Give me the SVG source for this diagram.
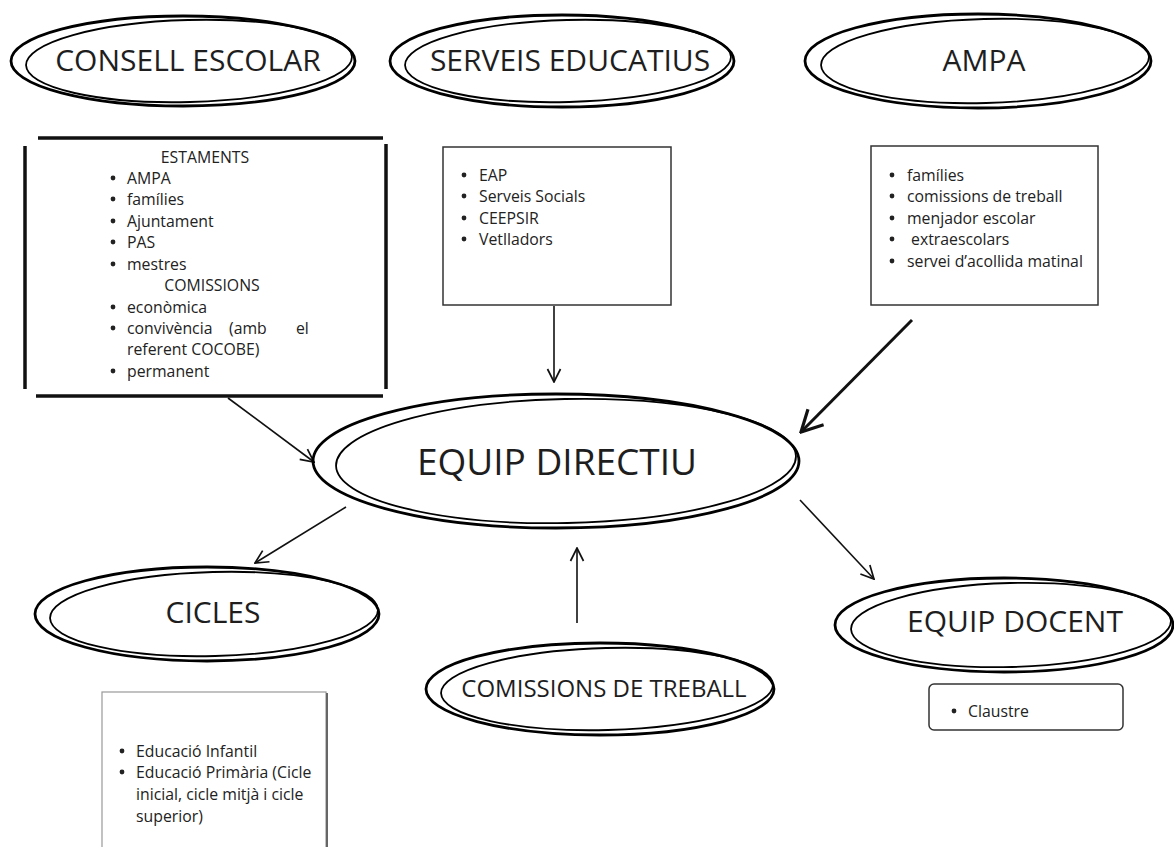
<svg xmlns="http://www.w3.org/2000/svg" width="1174" height="847" viewBox="0 0 1174 847">
<style>
  .bg{fill:#ffffff}
  .o1{fill:none;stroke:#000;stroke-width:2.8}
  .o2{fill:none;stroke:#000;stroke-width:1.8}
  .title{font-family:"Open Sans","Liberation Sans",sans-serif;fill:#1e1e1e;text-anchor:middle}
  .t{font-family:"Open Sans","Liberation Sans",sans-serif;font-size:15.8px;fill:#222}
  .b{fill:#222}
  .box{fill:#fff;stroke:#333;stroke-width:1.5}
  .rough{stroke:#111;stroke-width:3.5;stroke-linecap:butt;fill:none}
  .con{fill:none;stroke:#111;stroke-width:1.6}
  .conb{fill:none;stroke:#111;stroke-width:3}
</style>
<defs>
  <marker id="ah" markerUnits="userSpaceOnUse" viewBox="0 0 16 16" markerWidth="16" markerHeight="16" refX="15" refY="8" orient="auto">
    <path d="M2,1.5 L15,8 L2,14.5" fill="none" stroke="#111" stroke-width="1.7"/>
  </marker>
  <marker id="ahb" markerUnits="userSpaceOnUse" viewBox="0 0 26 26" markerWidth="26" markerHeight="26" refX="24" refY="13" orient="auto">
    <path d="M3,2 L24,13 L3,24" fill="none" stroke="#111" stroke-width="3.2"/>
  </marker>
</defs>
<rect class="bg" x="0" y="0" width="1174" height="847"/>

<g id="connectors">
  <line class="con" x1="228" y1="398" x2="314" y2="462" marker-end="url(#ah)"/>
  <line class="con" x1="554" y1="306" x2="554" y2="382" marker-end="url(#ah)"/>
  <line class="conb" x1="912" y1="320" x2="801" y2="432" marker-end="url(#ahb)"/>
  <line class="con" x1="346" y1="507" x2="255" y2="563" marker-end="url(#ah)"/>
  <line class="con" x1="800" y1="500" x2="874" y2="579" marker-end="url(#ah)"/>
  <line class="con" x1="577" y1="623" x2="577" y2="548" marker-end="url(#ah)"/>
</g>

<g id="consell-escolar">
  <ellipse class="o1" cx="183" cy="61" rx="172" ry="45"/>
  <ellipse class="o2" cx="189" cy="61" rx="163" ry="41" transform="rotate(-1.5 189 61)"/>
  <text class="title" x="188" y="71" font-size="30">CONSELL ESCOLAR</text>
</g>

<g id="serveis-educatius">
  <ellipse class="o1" cx="562" cy="61" rx="172" ry="46"/>
  <ellipse class="o2" cx="568" cy="61" rx="163" ry="41" transform="rotate(-1.5 568 61)"/>
  <text class="title" x="570" y="71" font-size="30">SERVEIS EDUCATIUS</text>
</g>

<g id="ampa">
  <ellipse class="o1" cx="978" cy="61" rx="173" ry="47"/>
  <ellipse class="o2" cx="985" cy="61" rx="164" ry="42" transform="rotate(-1.5 985 61)"/>
  <text class="title" x="984" y="71" font-size="30">AMPA</text>
</g>

<g id="consell-box">
  <rect x="26" y="139" width="359" height="256" fill="#fff"/>
  <line class="rough" x1="38" y1="138" x2="383" y2="138"/>
  <line class="rough" x1="36" y1="396" x2="383" y2="396"/>
  <line class="rough" x1="25" y1="146" x2="25" y2="389"/>
  <line class="rough" x1="386" y1="144" x2="386" y2="389"/>
  <text class="t" x="205" y="163" text-anchor="middle">ESTAMENTS</text>
  <circle class="b" cx="113" cy="178" r="2.4"/><text class="t" x="127" y="184">AMPA</text>
  <circle class="b" cx="113" cy="199" r="2.4"/><text class="t" x="127" y="205">famílies</text>
  <circle class="b" cx="113" cy="221" r="2.4"/><text class="t" x="127" y="227">Ajuntament</text>
  <circle class="b" cx="113" cy="242" r="2.4"/><text class="t" x="127" y="248">PAS</text>
  <circle class="b" cx="113" cy="264" r="2.4"/><text class="t" x="127" y="270">mestres</text>
  <text class="t" x="212" y="291" text-anchor="middle">COMISSIONS</text>
  <circle class="b" cx="113" cy="307" r="2.4"/><text class="t" x="127" y="313">econòmica</text>
  <circle class="b" cx="113" cy="328" r="2.4"/><text class="t" x="127" y="334">convivència</text><text class="t" x="229" y="334">(amb</text><text class="t" x="296" y="334">el</text>
  <text class="t" x="127" y="355">referent COCOBE)</text>
  <circle class="b" cx="113" cy="371" r="2.4"/><text class="t" x="127" y="377">permanent</text>
</g>

<g id="serveis-box">
  <rect class="box" x="443" y="147" width="228" height="158"/>
  <circle class="b" cx="464" cy="175" r="2.4"/><text class="t" x="479" y="181">EAP</text>
  <circle class="b" cx="464" cy="196" r="2.4"/><text class="t" x="479" y="202">Serveis Socials</text>
  <circle class="b" cx="464" cy="218" r="2.4"/><text class="t" x="479" y="224">CEEPSIR</text>
  <circle class="b" cx="464" cy="239" r="2.4"/><text class="t" x="479" y="245">Vetlladors</text>
</g>

<g id="ampa-box">
  <rect class="box" x="871" y="146" width="227" height="159"/>
  <circle class="b" cx="892" cy="175" r="2.4"/><text class="t" x="907" y="181">famílies</text>
  <circle class="b" cx="892" cy="196" r="2.4"/><text class="t" x="907" y="202">comissions de treball</text>
  <circle class="b" cx="892" cy="218" r="2.4"/><text class="t" x="907" y="224">menjador escolar</text>
  <circle class="b" cx="892" cy="239" r="2.4"/><text class="t" x="907" y="245" xml:space="preserve"> extraescolars</text>
  <circle class="b" cx="892" cy="261" r="2.4"/><text class="t" x="907" y="267">servei d’acollida matinal</text>
</g>

<g id="equip-directiu">
  <ellipse class="o1" cx="556" cy="461" rx="243" ry="67"/>
  <ellipse class="o2" cx="566" cy="461" rx="230" ry="62" transform="rotate(-1.2 566 461)"/>
  <text class="title" x="557" y="475" font-size="37">EQUIP DIRECTIU</text>
</g>

<g id="cicles">
  <ellipse class="o1" cx="207" cy="614" rx="172" ry="47"/>
  <ellipse class="o2" cx="214" cy="614" rx="164" ry="42" transform="rotate(-1.5 214 614)"/>
  <text class="title" x="213" y="623" font-size="30">CICLES</text>
</g>

<g id="cicles-box">
  <rect x="102" y="692" width="224" height="160" fill="#fff" stroke="#999" stroke-width="1.2"/>
  <line x1="327" y1="693" x2="327" y2="847" stroke="#666" stroke-width="2"/>
  <circle class="b" cx="122" cy="751" r="2.4"/><text class="t" x="136" y="757">Educació Infantil</text>
  <circle class="b" cx="122" cy="772" r="2.4"/><text class="t" x="136" y="778">Educació Primària (Cicle</text>
  <text class="t" x="136" y="800">inicial, cicle mitjà i cicle</text>
  <text class="t" x="136" y="822">superior)</text>
</g>

<g id="comissions-de-treball">
  <ellipse class="o1" cx="600" cy="689" rx="174" ry="46"/>
  <ellipse class="o2" cx="607" cy="689" rx="166" ry="41" transform="rotate(-1.5 607 689)"/>
  <text class="title" x="604" y="697" font-size="24">COMISSIONS DE TREBALL</text>
</g>

<g id="equip-docent">
  <ellipse class="o1" cx="1004" cy="625" rx="169" ry="47"/>
  <ellipse class="o2" cx="1011" cy="625" rx="160" ry="42" transform="rotate(-1.5 1011 625)"/>
  <text class="title" x="1015" y="632" font-size="30">EQUIP DOCENT</text>
</g>

<g id="docent-box">
  <rect class="box" x="929" y="684" width="194" height="46" rx="5" ry="5"/>
  <circle class="b" cx="954" cy="711" r="2.4"/><text class="t" x="968" y="717">Claustre</text>
</g>
</svg>
